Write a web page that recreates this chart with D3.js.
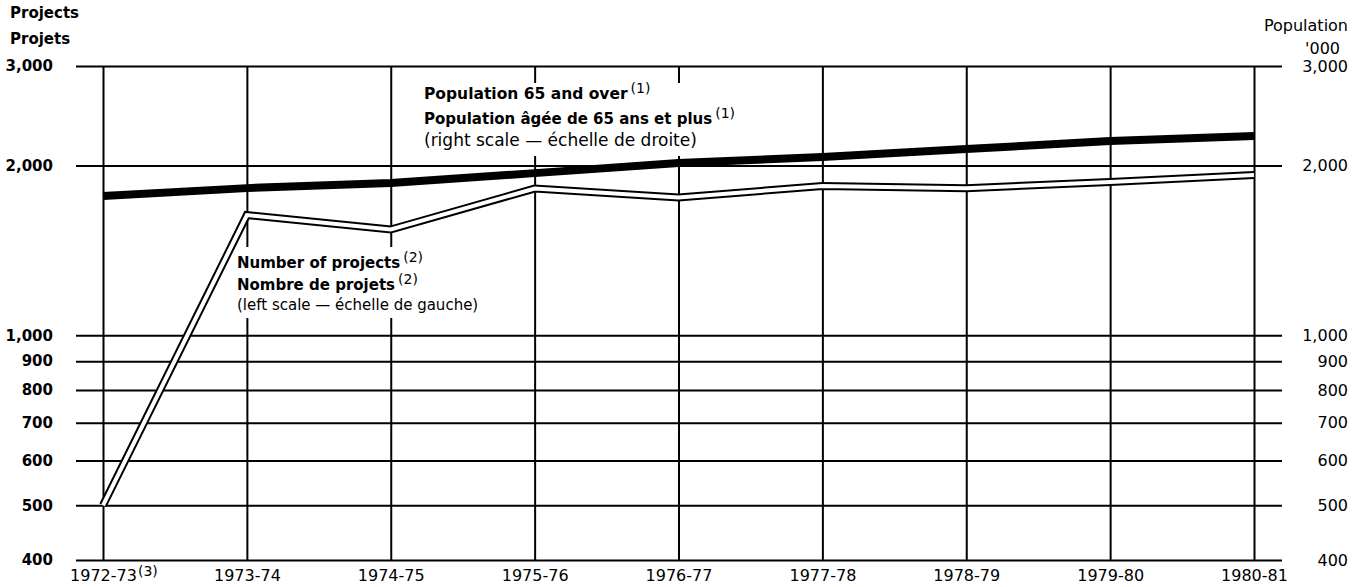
<!DOCTYPE html>
<html>
<head>
<meta charset="utf-8">
<script src="https://cdn.jsdelivr.net/npm/d3@7"></script>
<style>
	body { margin: 0; background: #fff; }
	text { font-family: "DejaVu Sans", sans-serif; fill: #000; }
</style>
</head>
<body>
<svg id="chart"></svg>
<script>
var years = ['1972-73', '1973-74', '1974-75', '1975-76', '1976-77', '1977-78', '1978-79', '1979-80', '1980-81'];
// number of projects (left scale)
var projects = [500, 1633, 1540, 1820, 1754, 1839, 1822, 1869, 1923];
// population 65 and over, thousands (right scale)
var population = [1765, 1823, 1862, 1938, 2020, 2069, 2138, 2209, 2254];
var tickValues = [400, 500, 600, 700, 800, 900, 1000, 2000, 3000];

var width = 1364,
	height = 587,
	plot = { top: 66, bottom: 560, left: 103, right: 1254, gridLeft: 76, gridRight: 1282 };

var svg = d3.select('#chart')
	.attr('width', width)
	.attr('height', height);

var x = d3.scalePoint()
	.domain(years)
	.range([plot.left, plot.right]);

var yLeft = d3.scaleLog()
	.domain([400, 3000])
	.range([plot.bottom, plot.top]);

var yRight = d3.scaleLog()
	.domain([400, 3000])
	.range([plot.bottom, plot.top]);

var fmt = d3.format(',');

/* axes and grid */
var xAxis = svg.append('g')
	.attr('transform', 'translate(0,' + plot.bottom + ')')
	.call(d3.axisBottom(x)
		.tickSizeInner(-(plot.bottom - plot.top))
		.tickSizeOuter(0)
		.tickPadding(10));
xAxis.select('.domain').remove();
xAxis.selectAll('line').attr('stroke', '#000').attr('stroke-width', 2);
xAxis.selectAll('text')
	.attr('font-size', 16)
	.attr('font-family', '"DejaVu Sans", sans-serif')
	.attr('fill', '#000');

// footnote mark on the first year
xAxis.selectAll('.tick').filter(function(d){ return d === years[0]; })
	.each(function(){
		var t = d3.select(this).select('text');
		var w = t.node().getComputedTextLength();
		d3.select(this).append('text')
			.attr('x', w / 2 + 1)
			.attr('y', 16)
			.attr('text-anchor', 'start')
			.attr('font-size', 14)
			.attr('font-family', '"DejaVu Sans", sans-serif')
			.attr('fill', '#000')
			.text('(3)');
	});

var leftAxis = svg.append('g')
	.attr('transform', 'translate(' + plot.gridLeft + ',0)')
	.call(d3.axisLeft(yLeft)
		.tickValues(tickValues)
		.tickFormat(fmt)
		.tickSizeInner(-(plot.gridRight - plot.gridLeft))
		.tickSizeOuter(0)
		.tickPadding(23));
leftAxis.select('.domain').remove();
leftAxis.selectAll('line').attr('stroke', '#000').attr('stroke-width', 2);
leftAxis.selectAll('text')
	.attr('font-size', 15)
	.attr('font-weight', 'bold')
	.attr('font-family', '"DejaVu Sans", sans-serif')
	.attr('fill', '#000');

var rightAxis = svg.append('g')
	.attr('transform', 'translate(' + plot.gridRight + ',0)')
	.call(d3.axisRight(yRight)
		.tickValues(tickValues)
		.tickFormat(fmt)
		.tickSize(0)
		.tickPadding(0));
rightAxis.select('.domain').remove();
rightAxis.selectAll('text')
	.attr('x', 66)
	.attr('text-anchor', 'end')
	.attr('font-size', 16)
	.attr('font-family', '"DejaVu Sans", sans-serif')
	.attr('fill', '#000');

/* axis titles */
svg.append('text').attr('x', 10).attr('y', 18)
	.attr('font-size', 15).attr('font-weight', 'bold').text('Projects');
svg.append('text').attr('x', 10).attr('y', 44)
	.attr('font-size', 15).attr('font-weight', 'bold').text('Projets');
svg.append('text').attr('x', 1348).attr('y', 31)
	.attr('text-anchor', 'end').attr('font-size', 16).text('Population');
svg.append('text').attr('x', 1340).attr('y', 54)
	.attr('text-anchor', 'end').attr('font-size', 16).text("'000");

/* label backgrounds cut the grid */
svg.append('rect')
	.attr('x', 418).attr('y', 83)
	.attr('width', 292).attr('height', 73)
	.attr('fill', '#fff');
svg.append('rect')
	.attr('x', 232).attr('y', 247)
	.attr('width', 280).attr('height', 71)
	.attr('fill', '#fff');

/* series */
var lineProjects = d3.line()
	.x(function(d, i) { return x(years[i]); })
	.y(function(d) { return yLeft(d); });

var linePopulation = d3.line()
	.x(function(d, i) { return x(years[i]); })
	.y(function(d) { return yRight(d); });

svg.append('path')
	.datum(population)
	.attr('d', linePopulation)
	.attr('fill', 'none')
	.attr('stroke', '#000')
	.attr('stroke-width', 8);

// double (outlined) line for projects
svg.append('path')
	.datum(projects)
	.attr('d', lineProjects)
	.attr('fill', 'none')
	.attr('stroke', '#000')
	.attr('stroke-width', 8)
	.attr('stroke-linejoin', 'miter');
svg.append('path')
	.datum(projects)
	.attr('d', lineProjects)
	.attr('fill', 'none')
	.attr('stroke', '#fff')
	.attr('stroke-width', 4)
	.attr('stroke-linejoin', 'miter');

/* series labels */
var addLabel = function(xPos, yPos, main, sup, size, bold){
	var t = svg.append('text')
		.attr('x', xPos)
		.attr('y', yPos)
		.attr('font-size', size)
		.attr('font-weight', bold ? 'bold' : 'normal');
	t.append('tspan').text(main);
	if (sup) {
		t.append('tspan')
			.attr('dx', 3)
			.attr('dy', -6)
			.attr('font-size', 14)
			.attr('font-weight', 'normal')
			.text(sup);
	}
};

addLabel(424, 99, 'Population 65 and over', '(1)', 15.5, true);
addLabel(424, 124, 'Population âgée de 65 ans et plus', '(1)', 15, true);
addLabel(424, 146, '(right scale — échelle de droite)', null, 17, false);

addLabel(237, 268, 'Number of projects', '(2)', 15, true);
addLabel(237, 290, 'Nombre de projets', '(2)', 15, true);
addLabel(237, 310, '(left scale — échelle de gauche)', null, 15, false);
</script>
</body>
</html>
